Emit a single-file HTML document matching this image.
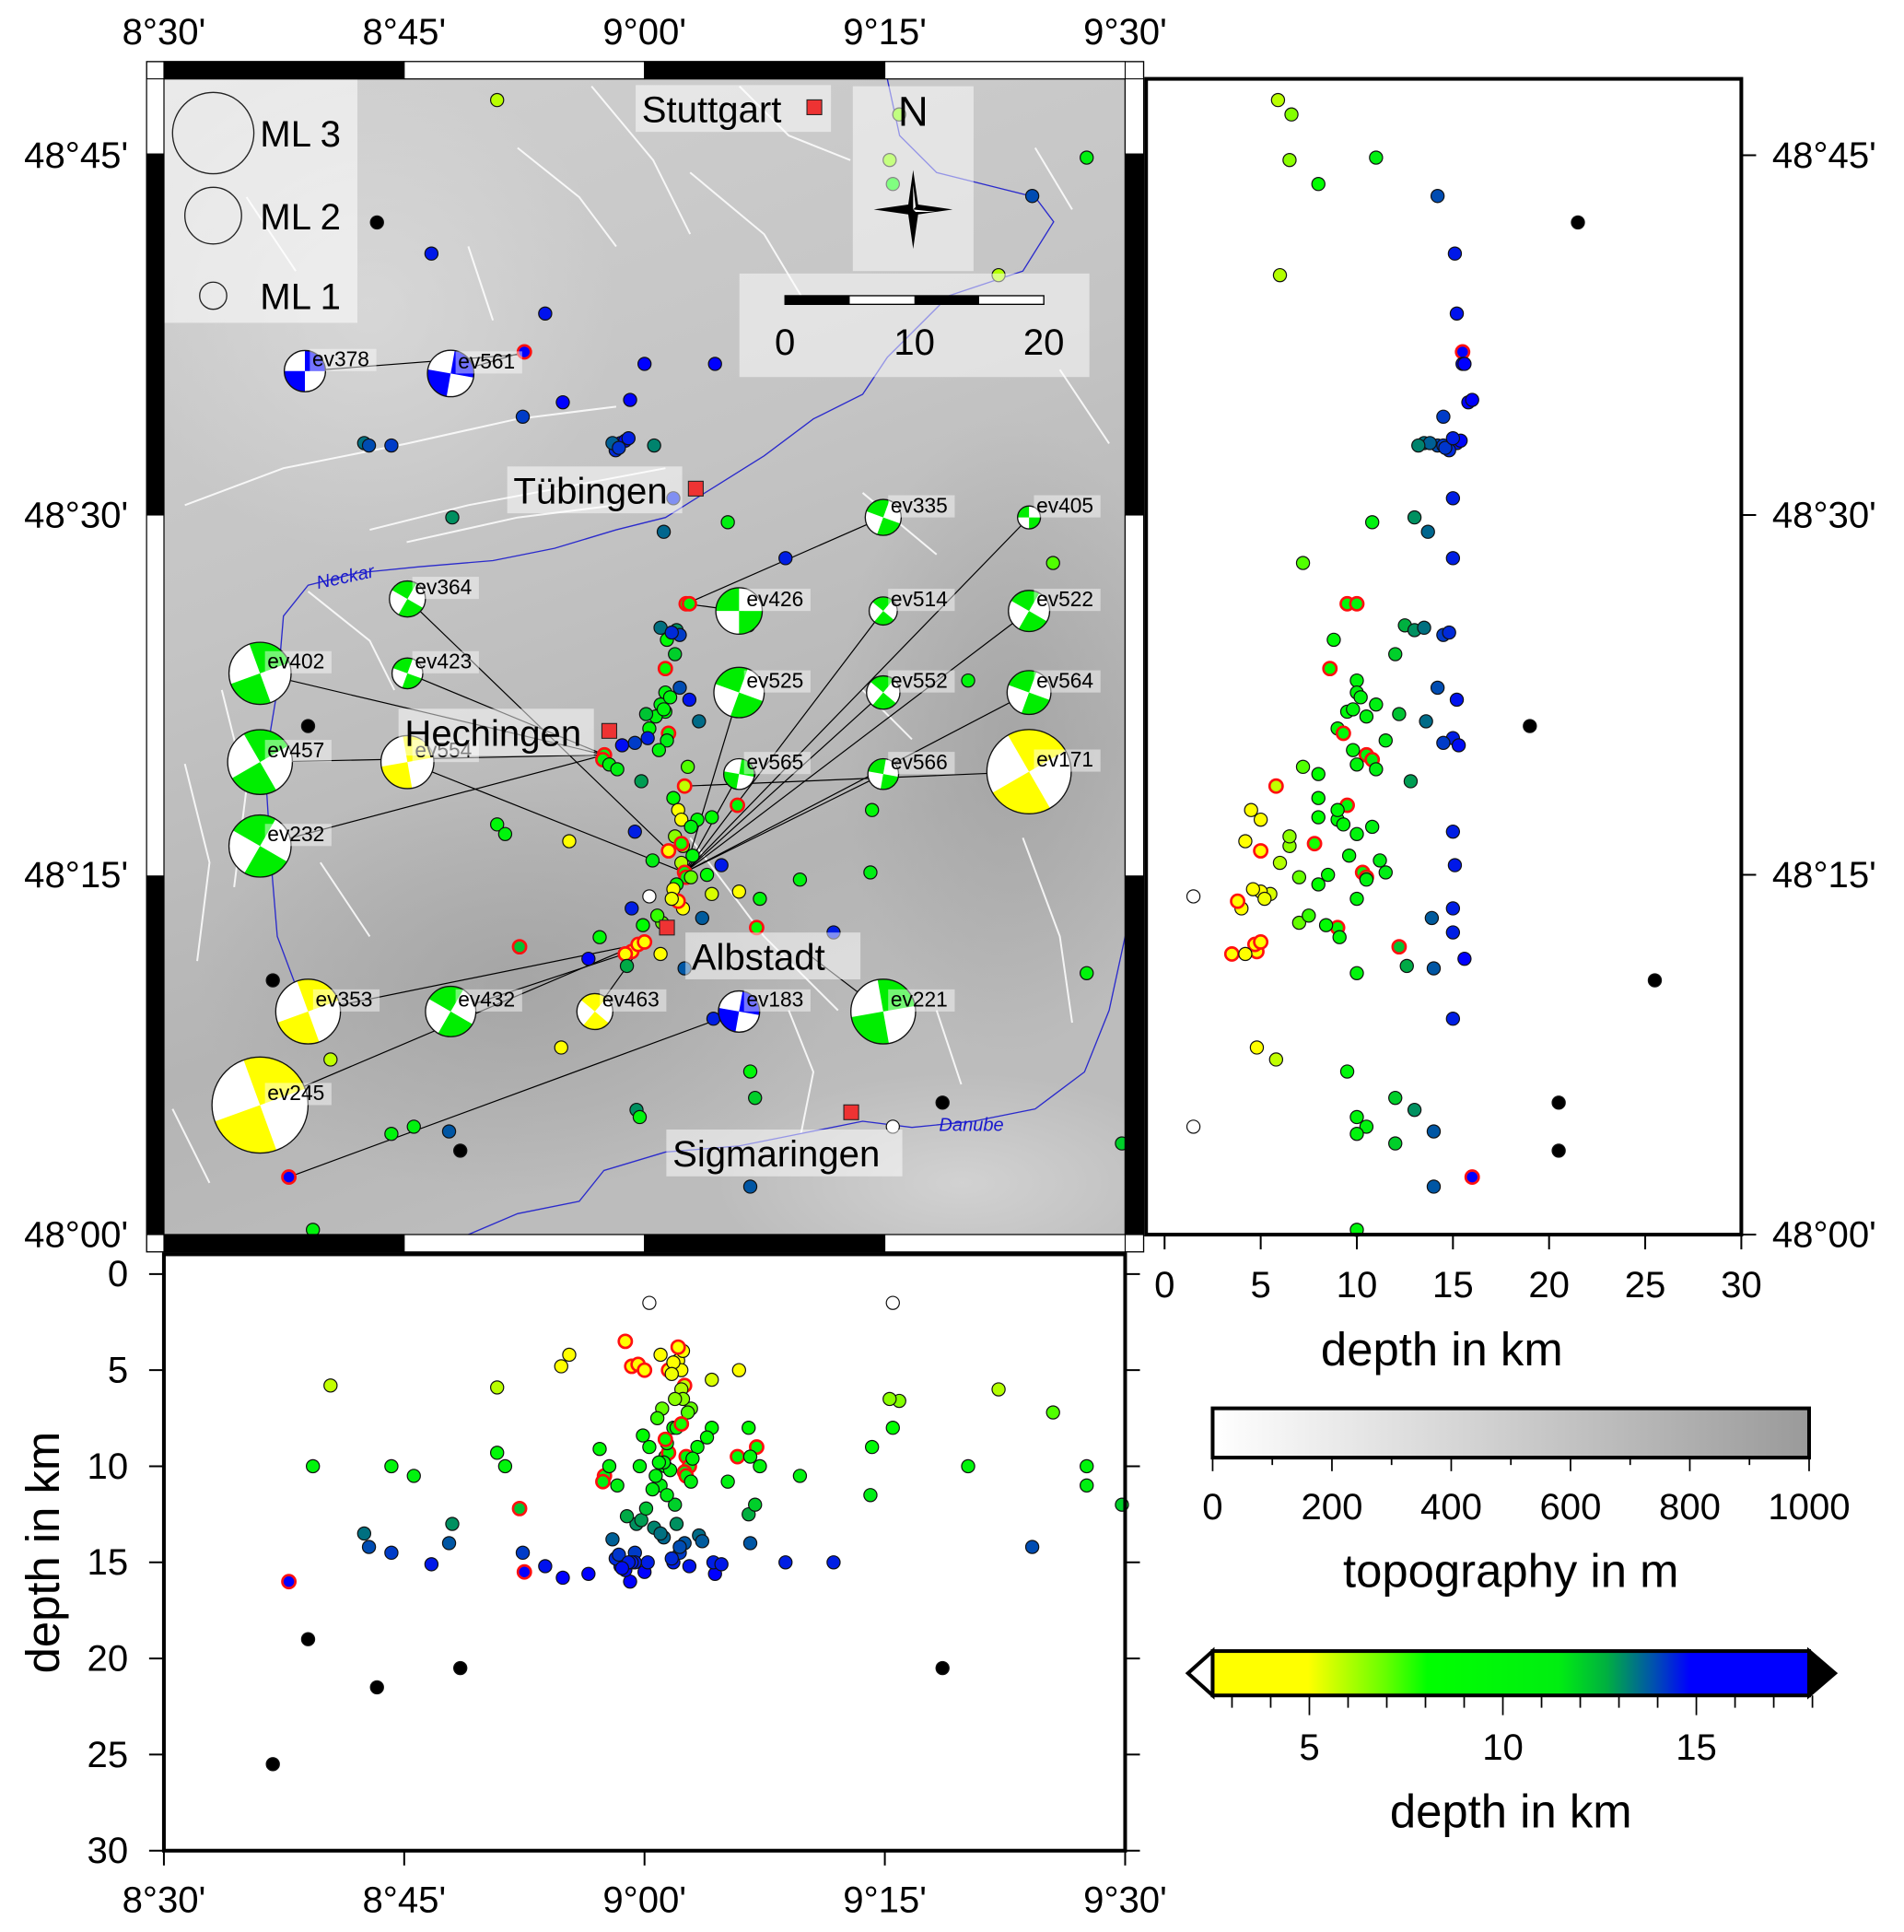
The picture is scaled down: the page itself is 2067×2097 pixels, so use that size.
<!DOCTYPE html>
<html><head><meta charset="utf-8"><style>
html,body{margin:0;padding:0;background:#fff}
svg{display:block}
text{font-family:"Liberation Sans",sans-serif}
</style></head><body>
<svg id="fig" xmlns="http://www.w3.org/2000/svg" width="2067" height="2097" viewBox="0 0 1545 1568" preserveAspectRatio="none">
<defs>
<linearGradient id="bg" x1="0" y1="0" x2="0.3" y2="1">
<stop offset="0" stop-color="#d0d0d0"/><stop offset="0.45" stop-color="#c4c4c4"/><stop offset="0.8" stop-color="#b4b4b4"/><stop offset="1" stop-color="#bcbcbc"/></linearGradient>
<radialGradient id="dk" cx="0.5" cy="0.5" r="0.5"><stop offset="0" stop-color="#999" stop-opacity="0.55"/><stop offset="1" stop-color="#999" stop-opacity="0"/></radialGradient>
<radialGradient id="lt" cx="0.5" cy="0.5" r="0.5"><stop offset="0" stop-color="#e0e0e0" stop-opacity="0.6"/><stop offset="1" stop-color="#e0e0e0" stop-opacity="0"/></radialGradient>
<linearGradient id="topo" x1="0" x2="1"><stop offset="0" stop-color="#fff"/><stop offset="1" stop-color="#9a9a9a"/></linearGradient>
<linearGradient id="dep" x1="0" x2="1">
<stop offset="0" stop-color="#ffff00"/><stop offset="0.16" stop-color="#ffff00"/><stop offset="0.29" stop-color="#66ff00"/><stop offset="0.36" stop-color="#00ff00"/><stop offset="0.58" stop-color="#00ee11"/><stop offset="0.66" stop-color="#00b040"/><stop offset="0.74" stop-color="#0050b0"/><stop offset="0.8" stop-color="#0000ff"/><stop offset="1" stop-color="#0000ff"/></linearGradient>
<clipPath id="mapclip"><rect x="133" y="64" width="780" height="938"/></clipPath>
</defs>
<g id="map">
<rect x="133" y="64" width="780" height="938" fill="url(#bg)"/>
<g clip-path="url(#mapclip)">
<ellipse cx="420" cy="800" rx="260" ry="170" fill="url(#dk)"/>
<ellipse cx="820" cy="600" rx="140" ry="260" fill="url(#dk)"/>
<ellipse cx="300" cy="250" rx="200" ry="200" fill="url(#lt)"/>
<ellipse cx="780" cy="960" rx="200" ry="90" fill="url(#lt)"/>
<g id="faults" stroke="#fff" stroke-width="1.5" fill="none" opacity="0.85">
<path d="M150 410 L230 380 L330 360 L420 340 L500 330"/><path d="M300 430 L380 410 L460 395 L540 380"/>
<path d="M330 440 L420 420 L500 410"/><path d="M420 120 L470 160 L500 200"/><path d="M480 70 L530 130 L560 190"/>
<path d="M560 140 L620 190 L650 240"/><path d="M600 70 L640 110 L690 130"/><path d="M180 560 L200 640 L190 720"/>
<path d="M150 620 L170 700 L160 780"/><path d="M250 480 L300 520 L320 560"/><path d="M640 820 L660 870 L650 920"/>
<path d="M760 820 L780 880"/><path d="M830 680 L860 760 L870 830"/><path d="M560 680 L620 760 L680 820"/>
<path d="M840 120 L870 170"/><path d="M860 300 L900 360"/><path d="M700 560 L740 600"/><path d="M200 160 L240 220"/>
<path d="M380 200 L400 260"/><path d="M260 700 L300 760"/><path d="M140 900 L170 960"/><path d="M700 400 L760 450"/>
</g>
<g id="rivers" stroke="#2a2acc" stroke-width="1" fill="none">
<path d="M720 64 L730 110 L760 140 L800 150 L840 160 L855 180 L830 220 L770 240 L720 290 L700 320 L660 340 L620 370 L580 395 L540 420 L500 430 L450 445 L400 455 L340 460 L290 465 L250 475 L230 500 L225 560 L215 620 L220 700 L225 760 L240 800"/>
<path d="M913 760 L900 820 L880 870 L840 900 L790 910 L740 915 L700 910 L650 920 L600 930 L540 935 L490 950 L470 975 L420 985 L380 1002"/>
</g>
<text x="258" y="478" font-size="15" fill="#1a1acc" font-style="italic" transform="rotate(-12 258 478)">Neckar</text>
<text x="762" y="918" font-size="15" fill="#1a1acc" font-style="italic">Danube</text>
<g id="mechlines"></g>
<g id="mappts"></g>
<g id="balls"></g>
<g id="cities"></g>
<g>
<rect x="133" y="64" width="157" height="198" fill="#fff" opacity="0.55"/>
<circle cx="173" cy="108" r="33" fill="none" stroke="#222" stroke-width="1"/>
<circle cx="173" cy="175" r="23" fill="none" stroke="#222" stroke-width="1"/>
<circle cx="173" cy="240" r="11" fill="none" stroke="#222" stroke-width="1"/>
<text x="211" y="119" font-size="30">ML 3</text><text x="211" y="186" font-size="30">ML 2</text><text x="211" y="251" font-size="30">ML 1</text>
</g>
<g>
<rect x="692" y="70" width="98" height="150" fill="#fff" opacity="0.5"/>
<text x="741" y="102" font-size="34" text-anchor="middle">N</text>
<path d="M741 138 L745 166 L773 170 L745 174 L741 202 L737 174 L709 170 L737 166 Z" fill="#000"/>
<path d="M741 150 L743 168 L741 170 Z M741 170 L759 172 L743 172 Z" fill="#fff"/>
</g>
<g>
<rect x="600" y="222" width="284" height="84" fill="#fff" opacity="0.5"/>
<rect x="637" y="240" width="210" height="7" fill="#fff" stroke="#000" stroke-width="1"/>
<rect x="637" y="240" width="52.5" height="7" fill="#000"/><rect x="742" y="240" width="52.5" height="7" fill="#000"/>
<text x="637" y="288" font-size="30" text-anchor="middle">0</text><text x="742" y="288" font-size="30" text-anchor="middle">10</text><text x="847" y="288" font-size="30" text-anchor="middle">20</text>
</g>
</g>
<g id="mapframe"></g>
</g>
<g id="right">
<g id="rpts"></g>
<rect x="930" y="64" width="483" height="938" fill="none" stroke="#000" stroke-width="3"/>
<g id="raxis"></g>
<text x="1170" y="1108" font-size="38" text-anchor="middle">depth in km</text>
</g>
<g id="bottom">
<g id="bpts"></g>
<rect x="133" y="1018" width="780" height="484" fill="none" stroke="#000" stroke-width="3"/>
<g id="baxis"></g>
<text x="48" y="1260" font-size="38" text-anchor="middle" transform="rotate(-90 48 1260)">depth in km</text>
</g>
<g>
<rect x="984" y="1143" width="484" height="40" fill="url(#topo)" stroke="#000" stroke-width="3"/>
<g id="topoticks"></g>
<text x="1226" y="1288" font-size="38" text-anchor="middle">topography in m</text>
</g>
<g>
<path d="M984 1340 L964 1358 L984 1376 Z" fill="#fff" stroke="#000" stroke-width="3"/>
<path d="M1468 1340 L1489 1358 L1468 1376 Z" fill="#000" stroke="#000" stroke-width="3"/>
<rect x="984" y="1340" width="484" height="36" fill="url(#dep)" stroke="#000" stroke-width="3"/>
<g id="depticks"></g>
<text x="1226" y="1483" font-size="38" text-anchor="middle">depth in km</text>
</g>
</svg>
<script>
// Events: lon minutes after 8°30', lat minutes after 48°00', depth km, red-edge flag
const evLon=[20.8,45.9,45.3,45.5,57.6,54.2,13.3,16.7,52.1,23.8,22.5,30.0,34.4,24.9,29.1,22.4,12.5,12.8,14.2,28.5,28.8,28.2,31.8,18.0,35.2,31.2,38.8,55.5,32.6,32.8,36.5,32.0,32.2,31.9,50.2,31.3,31.0,31.3,30.7,30.3,30.2,31.5,29.4,9.0,27.5,27.4,27.8,28.3,32.5,31.8,32.1,32.3,33.3,34.2,35.8,36.5,44.2,20.8,21.3,25.3,29.4,31.5,32.3,32.5,32.6,32.0,32.9,33.9,34.2,39.7,44.1,37.2,29.2,30.3,31.1,32.4,37.0,41.8,35.9,22.2,29.2,29.6,30.0,28.8,31.0,32.5,6.8,57.6,34.3,10.4,24.8,36.6,36.9,48.6,45.5,29.5,29.7,15.6,14.2,17.8,18.5,7.8,36.6,9.3,59.8,31.6,31.2,32.4,30.8,31.4,
 28.0,28.4,29.0,30.6,31.0,31.7,32.2,32.8,33.4,31.4,30.9,32.7,28.6,29.8,31.9,32.3,33.0,30.5,31.8,32.1,29.9,28.9,33.6,34.8,30.1,31.3,32.9,27.2,26.5,31.7];
const evLat=[47.3,46.7,44.8,43.8,44.9,43.3,42.2,40.9,40.0,38.4,36.8,36.3,36.3,34.7,34.8,34.1,33.0,32.9,32.9,33.0,33.1,32.7,30.7,29.9,29.7,29.3,28.2,28.0,26.3,26.3,25.4,25.2,25.0,24.2,23.1,22.6,22.1,21.8,21.6,21.1,20.7,20.9,20.5,21.2,20.0,19.8,19.6,19.4,18.7,18.2,17.7,17.3,17.3,17.4,17.9,19.2,17.7,17.1,16.7,16.4,16.8,16.0,15.5,15.1,14.9,14.6,14.9,15.0,14.2,14.8,15.1,14.0,13.6,14.1,13.0,13.6,12.8,12.6,14.3,12.0,11.8,12.1,12.2,11.7,11.7,11.1,10.6,10.9,9.0,7.3,7.8,6.8,5.7,5.5,4.5,5.2,4.9,4.5,4.2,4.3,3.5,2.4,2.0,0.2,3.8,22.4,21.9,16.2,13.3,24.8,
 33.0,32.8,33.2,32.9,25.3,25.1,22.8,22.3,21.4,20.6,20.2,19.5,20.4,18.9,16.6,16.3,15.8,15.6,14.4,13.9,12.9,11.2,13.2,15.4,21.7,23.6,17.0,12.4,11.5,14.0];
const evDep=[5.9,6.6,6.5,8,11,14.2,21.5,15.1,6,15.2,15.5,15.5,15.6,15.8,16,14.5,13.5,14.2,14.5,15.2,15.4,14.8,15.0,13,10.8,13.7,15,7.2,9.5,10,12.5,13,14.5,12,10,10,11,9.5,10.5,9,15,9.3,14.5,19,10.5,10.8,10,11,5.8,8,4.5,5,9,8,9.5,8,9,9.3,10,4.2,15,5,6,10.3,10.5,8,7,8.5,5.5,10.5,11.5,10,15,1.5,7,4,9,15,5,12.2,4.8,4.7,5,3.5,4.2,14,25.5,10,15,5.8,4.8,9.5,12,20.5,1.5,13,10,10.5,10,14,20.5,16,14,10,12,10.2,9.8,6.5,7.5,8.8,
 13.8,14.6,15.0,13.2,13.5,14.8,14.2,15.2,13.6,11.5,9.8,7.2,15.3,12.8,6.5,7.8,9.6,11.2,4.6,3.8,8.4,12.6,13.9,15.1,12.2,8.6,10.8,9.1,15.6,5.2];
const evRed=[0,0,0,0,0,0,0,0,0,0,1,0,0,0,0,0,0,0,0,0,0,0,0,0,0,0,0,0,1,1,0,0,0,0,0,0,0,0,0,0,0,1,0,0,1,1,0,0,1,0,0,0,0,0,1,0,0,0,0,0,0,1,0,1,1,0,0,0,0,0,0,0,0,0,0,0,1,0,0,1,1,1,1,1,0,0,0,0,0,0,0,0,0,0,0,0,0,0,0,0,0,1,0,0,0,0,0,0,0,0,
 0,0,0,0,0,0,0,0,0,0,0,0,0,0,0,1,0,0,0,1,0,0,0,0,0,1,0,0,0,0];
// Focal mechanisms
const fmName=["ev378","ev561","ev335","ev405","ev364","ev426","ev514","ev522","ev402","ev423","ev525","ev552","ev564","ev457","ev554","ev565","ev566","ev171","ev232","ev353","ev432","ev463","ev183","ev221","ev245"];
const fmLon=[8.8,17.9,44.9,54.0,15.2,35.9,44.9,54.0,6.0,15.2,35.9,44.9,54.0,6.0,15.2,35.9,44.9,54.0,6.0,9.0,17.9,26.9,35.9,44.9,6.0];
const fmLat=[36.0,35.9,29.9,29.9,26.5,26.0,26.0,26.0,23.4,23.4,22.6,22.6,22.6,19.7,19.7,19.2,19.2,19.3,16.2,9.3,9.3,9.3,9.3,9.3,5.4];
const fmMag=[1.2,1.4,1.0,0.5,1.0,1.4,0.7,1.2,2.0,0.8,1.55,0.9,1.3,2.1,1.65,0.8,0.8,2.85,2.0,2.1,1.55,1.0,1.2,2.1,3.3];
const fmType=["b","b","g","g","g","g","g","g","g","g","g","g","g","g","y","g","g","y","g","y","g","y","b","g","y"];
const fmAng=[90,100,20,0,30,0,40,30,70,20,20,40,20,60,80,100,10,60,30,70,30,40,100,80,70];
const fmEpiLon=[22.4,22.5,32.6,32.5,31.5,32.6,32.5,32.5,27.5,27.5,32.5,32.5,32.5,27.5,32.5,32.5,32.5,32.6,27.5,29.6,29.2,30.0,7.8,40.0,29.6];
const fmEpiLat=[36.7,36.8,26.3,15.1,16.0,26.3,15.1,15.1,20.0,20.0,15.1,15.1,15.1,20.0,15.1,15.1,15.1,18.7,20.0,12.1,11.8,12.2,2.4,11.8,12.1];
const cityName=["Stuttgart","Tübingen","Hechingen","Albstadt","Sigmaringen"];
const cityLon=[40.6,33.2,27.8,31.4,42.9];
const cityLat=[47.0,31.1,21.0,12.8,5.1];
const lonTicks=["8°30'","8°45'","9°00'","9°15'","9°30'"];
const latTicks=["48°00'","48°15'","48°30'","48°45'"];
const depthTicksR=[0,5,10,15,20,25,30];
const depthTicksB=[0,5,10,15,20,25,30];
const topoTicks=[0,200,400,600,800,1000];
const depthCbTicks=[5,10,15];

const NS="http://www.w3.org/2000/svg";
const X=m=>133+m*13, Y=m=>1002-m*19.467;
const RX=d=>945+d*15.6, BY=d=>1034+d*15.6;
const fmR=m=>4+m*10.6;
function mk(tag,attrs,parent){const e=document.createElementNS(NS,tag);for(const k in attrs)e.setAttribute(k,attrs[k]);parent.appendChild(e);return e;}
function depCol(d){
 if(d<2.5)return"#ffffff"; if(d>18)return"#000000";
 const st=[[2.5,[255,255,0]],[5,[255,255,0]],[7,[100,255,0]],[8,[0,255,0]],[11.5,[0,238,20]],[12.5,[0,176,64]],[13.5,[0,112,128]],[14.5,[0,60,200]],[15.5,[0,0,255]],[18,[0,0,255]]];
 for(let i=1;i<st.length;i++){if(d<=st[i][0]){const a=st[i-1],b=st[i],t=(d-a[0])/(b[0]-a[0]);const c=a[1].map((v,j)=>Math.round(v+(b[1][j]-v)*t));return`rgb(${c})`;}}
 return"#0000ff";}
const mappts=document.getElementById('mappts'),rpts=document.getElementById('rpts'),bpts=document.getElementById('bpts');
function dot(g,cx,cy,i){const c=mk('circle',{cx:cx,cy:cy,r:5.3,fill:depCol(evDep[i]),stroke:evRed[i]?'#ff1010':'#111','stroke-width':evRed[i]?2:0.9},g);
 
 }
for(let i=0;i<evLon.length;i++){
 dot(mappts,X(evLon[i]),Y(evLat[i]),i);
 dot(rpts,RX(evDep[i]),Y(evLat[i]),i);
 dot(bpts,X(evLon[i]),BY(evDep[i]),i);
}
// mechanisms
const ml=document.getElementById('mechlines'),bg=document.getElementById('balls');
const fmCols={b:'#0000ff',g:'#00ee00',y:'#ffff00'};
for(let i=0;i<fmName.length;i++){
 const cx=X(fmLon[i]),cy=Y(fmLat[i]),r=fmR(fmMag[i]);
 const ln=mk('line',{x1:cx,y1:cy,x2:X(fmEpiLon[i]),y2:Y(fmEpiLat[i]),stroke:'#000','stroke-width':0.9},ml);
 
 
 const g=mk('g',{},bg);
 
 
 mk('circle',{cx:cx,cy:cy,r:r,fill:'#fff'},g);
 const col=fmCols[fmType[i]];
 for(const off of [0,180]){
  const a0=(fmAng[i]+off)*Math.PI/180,a1=(fmAng[i]+off+90)*Math.PI/180;
  mk('path',{d:`M${cx} ${cy} L${cx+r*Math.cos(a0)} ${cy+r*Math.sin(a0)} A${r} ${r} 0 0 1 ${cx+r*Math.cos(a1)} ${cy+r*Math.sin(a1)} Z`,fill:col},g);
 }
 mk('circle',{cx:cx,cy:cy,r:r,fill:'none',stroke:'#111','stroke-width':1},g);
 const tx=cx+6,ty=cy-4;
 mk('rect',{x:tx-2,y:ty-14,width:54,height:18,fill:'#fff',opacity:0.45},g);
 const t=mk('text',{x:tx,y:ty,'font-size':17},g);t.textContent=fmName[i];
}
// cities
const cg=document.getElementById('cities');
const cityLab=[[-140,12,'l'],[-148,12,'l'],[-166,12,'l'],[20,34,'r'],[-145,44,'r']];
for(let i=0;i<cityName.length;i++){
 const cx=X(cityLon[i]),cy=Y(cityLat[i]);
 const g=mk('g',{},cg);
 
 
 const lx=cx+cityLab[i][0],ly=cy+cityLab[i][1];
 const w=cityName[i].length*16.5+10;
 mk('rect',{x:lx-5,y:ly-30,width:w,height:38,fill:'#fff',opacity:0.5},g);
 const t=mk('text',{x:lx,y:ly,'font-size':30},g);t.textContent=cityName[i];
 mk('rect',{x:cx-6,y:cy-6,width:12,height:12,fill:'#ee3333',stroke:'#222','stroke-width':0.8},g);
}
// map frame
const mf=document.getElementById('mapframe');
mk('rect',{x:119,y:50,width:809,height:966,fill:'none',stroke:'#000','stroke-width':1},mf);
mk('rect',{x:133,y:64,width:780,height:938,fill:'none',stroke:'#000','stroke-width':1},mf);
for(let k=0;k<4;k++){const x0=133+k*195;const f=k%2==0?'#000':'#fff';
 mk('rect',{x:x0,y:50,width:195,height:14,fill:f,stroke:'#000','stroke-width':0.8},mf);
 mk('rect',{x:x0,y:1002,width:195,height:14,fill:f,stroke:'#000','stroke-width':0.8},mf);}
const lb=[[64,125,'#fff'],[125,418,'#000'],[418,711,'#fff'],[711,1002,'#000']];
for(const b of lb){mk('rect',{x:119,y:b[0],width:14,height:b[1]-b[0],fill:b[2],stroke:'#000','stroke-width':0.8},mf);
 mk('rect',{x:913,y:b[0],width:15,height:b[1]-b[0],fill:b[2],stroke:'#000','stroke-width':0.8},mf);}
for(let k=0;k<lonTicks.length;k++){const t=mk('text',{x:133+k*195,y:36,'font-size':30,'text-anchor':'middle'},mf);t.textContent=lonTicks[k];}
for(let k=1;k<latTicks.length;k++){const t=mk('text',{x:104,y:1002-k*292+10,'font-size':30,'text-anchor':'end'},mf);t.textContent=latTicks[k];}
{const t=mk('text',{x:104,y:1012,'font-size':30,'text-anchor':'end'},mf);t.textContent=latTicks[0];}
// right axis
const ra=document.getElementById('raxis');
for(let k=0;k<latTicks.length;k++){const y=1002-k*292;mk('line',{x1:1413,y1:y,x2:1425,y2:y,stroke:'#000','stroke-width':1.5},ra);
 const t=mk('text',{x:1438,y:y+10,'font-size':30},ra);t.textContent=latTicks[k];}
for(const d of depthTicksR){mk('line',{x1:RX(d),y1:1002,x2:RX(d),y2:1014,stroke:'#000','stroke-width':1.5},ra);
 const t=mk('text',{x:RX(d),y:1053,'font-size':30,'text-anchor':'middle'},ra);t.textContent=d;}
// bottom axis
const ba=document.getElementById('baxis');
for(const d of depthTicksB){mk('line',{x1:121,y1:BY(d),x2:133,y2:BY(d),stroke:'#000','stroke-width':1.5},ba);
 mk('line',{x1:913,y1:BY(d),x2:925,y2:BY(d),stroke:'#000','stroke-width':1.5},ba);
 const t=mk('text',{x:104,y:BY(d)+10,'font-size':30,'text-anchor':'end'},ba);t.textContent=d;}
for(let k=0;k<lonTicks.length;k++){const x=133+k*195;mk('line',{x1:x,y1:1502,x2:x,y2:1514,stroke:'#000','stroke-width':1.5},ba);
 const t=mk('text',{x:x,y:1552,'font-size':30,'text-anchor':'middle'},ba);t.textContent=lonTicks[k];}
// colorbar ticks
const tt=document.getElementById('topoticks');
for(let v=0;v<=1000;v+=100){const x=984+v*0.484;mk('line',{x1:x,y1:1183,x2:x,y2:v%200==0?1194:1189,stroke:'#000','stroke-width':1.3},tt);}
for(const v of topoTicks){const t=mk('text',{x:984+v*0.484,y:1233,'font-size':30,'text-anchor':'middle'},tt);t.textContent=v;}
const dt=document.getElementById('depticks');
const DX=d=>984+(d-2.5)*31.4;
for(let d=3;d<=18;d++){mk('line',{x1:DX(d),y1:1376,x2:DX(d),y2:d%5==0?1392:1386,stroke:'#000','stroke-width':1.3},dt);}
for(const d of depthCbTicks){const t=mk('text',{x:DX(d),y:1428,'font-size':30,'text-anchor':'middle'},dt);t.textContent=d;}
</script>
</body></html>
